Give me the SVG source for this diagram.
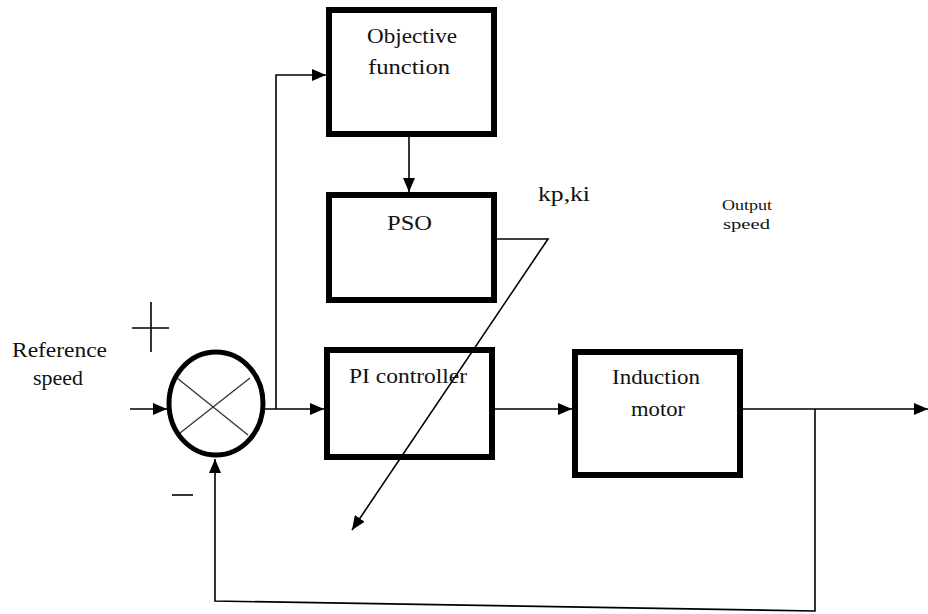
<svg xmlns="http://www.w3.org/2000/svg" width="928" height="614" viewBox="0 0 928 614" font-family="Liberation Serif, DejaVu Serif, serif">
<style>
.box{fill:#fff;stroke:#000;stroke-width:6}
.ln{fill:none;stroke:#000;stroke-width:1.6}
.arr{marker-end:url(#ah)}
text{font-family:"Liberation Serif","DejaVu Serif",serif;font-size:21px;fill:#111}
.s{font-size:14px}
</style>
<defs>
<marker id="ah" markerUnits="userSpaceOnUse" markerWidth="15" markerHeight="12" refX="14" refY="6" orient="auto">
<path d="M0,0 L14,6 L0,12 z" fill="#000"/>
</marker>
</defs>
<rect width="928" height="614" fill="#fff"/>
<g id="connectors">
<line class="ln arr" x1="130" y1="409" x2="167" y2="409"/>
<line class="ln arr" x1="265" y1="409" x2="324" y2="409"/>
<polyline class="ln arr" points="276,409 276,75 326,75"/>
<line class="ln arr" x1="409" y1="137" x2="409" y2="192"/>
<polyline class="ln arr" points="497,239 548,239 352,530"/>
<line class="ln arr" x1="495" y1="409" x2="572" y2="409"/>
<line class="ln arr" x1="743" y1="409" x2="928" y2="409"/>
<polyline class="ln arr" points="815,409 815,611 215,601 215,459"/>
</g>
<g id="sum">
<ellipse cx="216" cy="403.5" rx="47" ry="51.5" fill="#fff" stroke="#000" stroke-width="5"/>
<line x1="177" y1="378" x2="248" y2="435" stroke="#333" stroke-width="1.3"/>
<line x1="250" y1="378" x2="180" y2="433" stroke="#333" stroke-width="1.3"/>
</g>
<g id="signs">
<line class="ln" x1="132" y1="328" x2="169" y2="328"/>
<line class="ln" x1="151" y1="302" x2="151" y2="352"/>
<line class="ln" x1="172" y1="495" x2="193" y2="495"/>
</g>
<g id="objective">
<rect class="box" x="329" y="10" width="165" height="124"/>
<text x="367" y="43" textLength="90" lengthAdjust="spacingAndGlyphs">Objective</text>
<text x="368" y="74" textLength="82" lengthAdjust="spacingAndGlyphs">function</text>
</g>
<g id="pso">
<rect class="box" x="329" y="195" width="165" height="105"/>
<text x="387" y="230" textLength="45" lengthAdjust="spacingAndGlyphs">PSO</text>
</g>
<g id="pi">
<rect class="box" x="327" y="350" width="165" height="107" fill-opacity="0"/>
<text x="349" y="383" textLength="118" lengthAdjust="spacingAndGlyphs">PI controller</text>
</g>
<g id="motor">
<rect class="box" x="575" y="352" width="165" height="123"/>
<text x="612" y="384" textLength="88" lengthAdjust="spacingAndGlyphs">Induction</text>
<text x="631" y="416" textLength="54" lengthAdjust="spacingAndGlyphs">motor</text>
</g>
<g id="labels">
<text x="538" y="201" textLength="52" lengthAdjust="spacingAndGlyphs">kp,ki</text>
<text class="s" x="722" y="210" textLength="50" lengthAdjust="spacingAndGlyphs">Output</text>
<text class="s" x="723" y="229" textLength="47" lengthAdjust="spacingAndGlyphs">speed</text>
<text x="12" y="357" style="font-size:20px" textLength="95" lengthAdjust="spacingAndGlyphs">Reference</text>
<text x="33" y="385" style="font-size:20px" textLength="50" lengthAdjust="spacingAndGlyphs">speed</text>
</g>
</svg>
